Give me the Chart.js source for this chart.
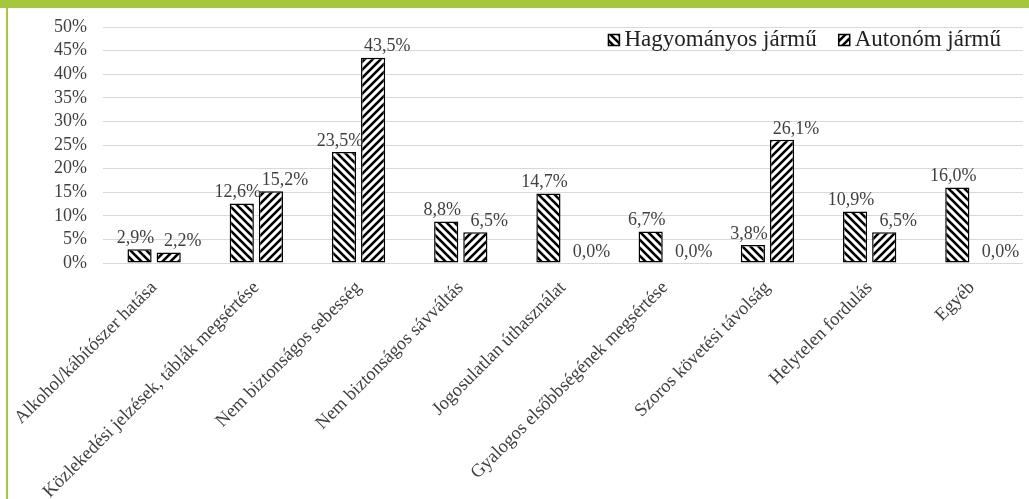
<!DOCTYPE html>
<html>
<head>
<meta charset="utf-8">
<script src="https://cdn.jsdelivr.net/npm/chart.js@4.4.0/dist/chart.umd.min.js"></script>
<style>
  html, body { margin: 0; padding: 0; background: #fff; }
  #wrap { position: relative; width: 1029px; height: 499px; overflow: hidden; }
  #c { position: absolute; left: 0; top: 0; }
  #gtop { position: absolute; left: 0; top: 0; width: 1029px; height: 8px; background: #a5c73b; }
  #gleft { position: absolute; left: 6px; top: 0; width: 2px; height: 499px; background: #a5c73b; }
</style>
</head>
<body>
<div id="wrap">
  <canvas id="c" width="1029" height="499"></canvas>
  <div id="gtop"></div>
  <div id="gleft"></div>
</div>
<script>
const categories = [
  "Alkohol/kábítószer hatása",
  "Közlekedési jelzések, táblák megsértése",
  "Nem biztonságos sebesség",
  "Nem biztonságos sávváltás",
  "Jogosulatlan úthasználat",
  "Gyalogos elsőbbségének megsértése",
  "Szoros követési távolság",
  "Helytelen fordulás",
  "Egyéb"
];
const seriesNames = ["Hagyományos jármű", "Autonóm jármű"];
const hagyomanyos = [2.9, 12.6, 23.5, 8.8, 14.7, 6.7, 3.8, 10.9, 16.0];
const autonom = [2.2, 15.2, 43.5, 6.5, 0.0, 0.0, 26.1, 6.5, 0.0];
const yMin = 0, yMax = 50, yStep = 5;

const SERIF = "'Liberation Serif', 'Times New Roman', serif";
const TEXT = '#404040';

function makeHatch(dir) {
  const s = 8;
  const cv = document.createElement('canvas');
  cv.width = s; cv.height = s;
  const g = cv.getContext('2d');
  g.fillStyle = '#fff';
  g.fillRect(0, 0, s, s);
  g.strokeStyle = '#000';
  g.lineWidth = 2.6;
  g.lineCap = 'square';
  for (let k = -1; k <= 1; k++) {
    g.beginPath();
    if (dir === 'back') { g.moveTo(k * s, 0); g.lineTo(k * s + s, s); }
    else { g.moveTo(k * s, s); g.lineTo(k * s + s, 0); }
    g.stroke();
  }
  return document.getElementById('c').getContext('2d').createPattern(cv, 'repeat');
}
const patBack = makeHatch('back');
const patFwd = makeHatch('fwd');

function fmt(v) { return v.toFixed(1).replace('.', ',') + '%'; }

const labelShift = [-4, 14];

const valueLabels = {
  id: 'valueLabels',
  afterDatasetsDraw(chart) {
    const ctx = chart.ctx;
    ctx.save();
    ctx.font = '18px ' + SERIF;
    ctx.fillStyle = TEXT;
    ctx.textAlign = 'center';
    ctx.textBaseline = 'middle';
    chart.data.datasets.forEach((ds, di) => {
      const meta = chart.getDatasetMeta(di);
      meta.data.forEach((bar, i) => {
        const v = ds.data[i];
        ctx.fillText(fmt(v), bar.x + labelShift[di], bar.y - 11);
      });
    });
    ctx.restore();
  }
};

const customLegend = {
  id: 'customLegend',
  afterDraw(chart) {
    const ctx = chart.ctx;
    ctx.save();
    ctx.font = '23px ' + SERIF;
    ctx.textBaseline = 'middle';
    ctx.textAlign = 'left';
    const box = 11, gapText = 5, gapItem = 22;
    const ds = chart.data.datasets;
    const widths = ds.map(d => ctx.measureText(d.label).width);
    let total = 0;
    widths.forEach((w, i) => { total += box + gapText + w + (i < widths.length - 1 ? gapItem : 0); });
    let x = chart.chartArea.right - 22 - total;
    const yc = 40;
    ds.forEach((d, i) => {
      ctx.fillStyle = d.backgroundColor;
      ctx.fillRect(x, yc - box / 2, box, box);
      ctx.strokeStyle = '#000';
      ctx.lineWidth = 1.5;
      ctx.strokeRect(x, yc - box / 2, box, box);
      ctx.fillStyle = '#222';
      ctx.fillText(d.label, x + box + gapText, yc);
      x += box + gapText + widths[i] + gapItem;
    });
    ctx.restore();
  }
};

new Chart(document.getElementById('c'), {
  type: 'bar',
  data: {
    labels: categories,
    datasets: [
      { label: seriesNames[0], data: hagyomanyos, backgroundColor: patBack },
      { label: seriesNames[1], data: autonom, backgroundColor: patFwd }
    ]
  },
  options: {
    responsive: false,
    devicePixelRatio: 1,
    animation: false,
    layout: { padding: { left: 0, right: 6, top: 27, bottom: 0 } },
    datasets: {
      bar: {
        categoryPercentage: 0.57,
        barPercentage: 0.83,
        borderColor: '#000',
        borderWidth: (c) => (c.raw === 0 ? 0 : 1.5),
        borderSkipped: false
      }
    },
    plugins: {
      legend: { display: false },
      tooltip: { enabled: false }
    },
    scales: {
      x: {
        grid: { display: false },
        border: { display: false },
        ticks: {
          autoSkip: false,
          minRotation: 45,
          maxRotation: 45,
          padding: 6,
          color: TEXT,
          font: { family: SERIF, size: 18.5 }
        },
        afterFit(scale) { scale.height = 236; }
      },
      y: {
        min: yMin,
        max: yMax,
        grid: { color: '#d9d9d9', lineWidth: 1, drawTicks: false },
        border: { display: false },
        ticks: {
          stepSize: yStep,
          autoSkip: false,
          padding: 16,
          color: TEXT,
          font: { family: SERIF, size: 18 },
          callback: (v) => v + '%'
        },
        afterFit(scale) { scale.width = 103; }
      }
    }
  },
  plugins: [valueLabels, customLegend]
});
</script>
</body>
</html>
